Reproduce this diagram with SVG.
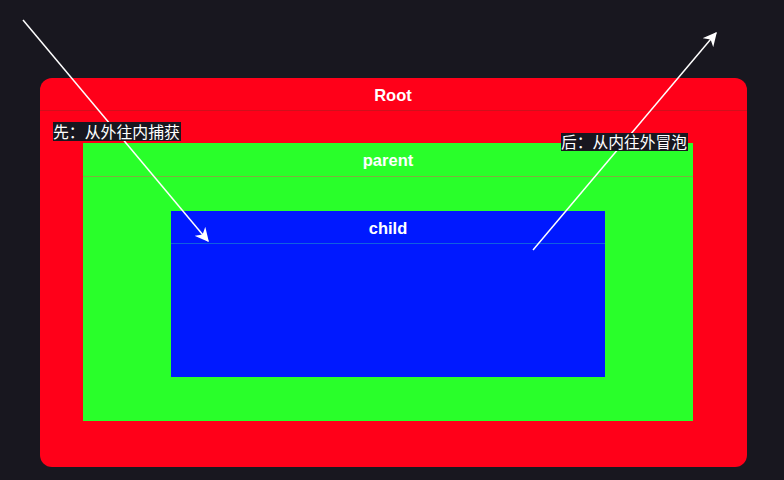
<svg xmlns="http://www.w3.org/2000/svg" width="784" height="480" viewBox="0 0 784 480">
<defs>
<style>
.t{font-family:"Liberation Sans",Arial,sans-serif;font-weight:bold;font-size:16.5px;fill:#ffffff;text-anchor:middle}
.lbl{font-family:"Noto Sans CJK SC","Liberation Sans",sans-serif;font-size:16px;fill:#ffffff}
.sep{stroke-width:1}
.conn{stroke:#ffffff;stroke-width:1.5;fill:none;marker-end:url(#ah)}
</style>
<marker id="ah" viewBox="0 0 10 10" refX="9" refY="5" markerWidth="14" markerHeight="14" markerUnits="userSpaceOnUse" orient="auto">
<path d="M0,0 L10,5 L0,10 L3,5 Z" fill="#ffffff"/>
</marker>
</defs>
<rect width="784" height="480" fill="#18171f"/>
<g id="root">
<rect x="40" y="78" width="707" height="389" rx="12" fill="#ff0019"/>
<line class="sep" x1="40" y1="110.5" x2="747" y2="110.5" stroke="#d0101c"/>
<text class="t" x="393" y="101">Root</text>
</g>
<g id="parent">
<rect x="83" y="143" width="610" height="278" fill="#29ff2a"/>
<line class="sep" x1="83" y1="176.5" x2="693" y2="176.5" stroke="#7fb040"/>
<text class="t" x="388" y="166">parent</text>
</g>
<g id="child">
<rect x="171" y="211" width="434" height="166" fill="#0019ff"/>
<line class="sep" x1="171" y1="243.5" x2="605" y2="243.5" stroke="#1060e0"/>
<text class="t" x="388" y="234">child</text>
</g>
<g id="connectors">
<line class="conn" x1="23" y1="20" x2="208" y2="241"/>
<line class="conn" x1="533" y1="250" x2="716" y2="33"/>
</g>
<g id="label-capture">
<rect x="53" y="122" width="128" height="19" fill="#18171f"/>
<text class="lbl" x="53" y="137.5" textLength="127" lengthAdjust="spacingAndGlyphs">先：从外往内捕获</text>
</g>
<g id="label-bubble">
<rect x="561" y="133" width="127" height="18" fill="#18171f"/>
<text class="lbl" x="561" y="148" textLength="126" lengthAdjust="spacingAndGlyphs">后：从内往外冒泡</text>
</g>
</svg>
